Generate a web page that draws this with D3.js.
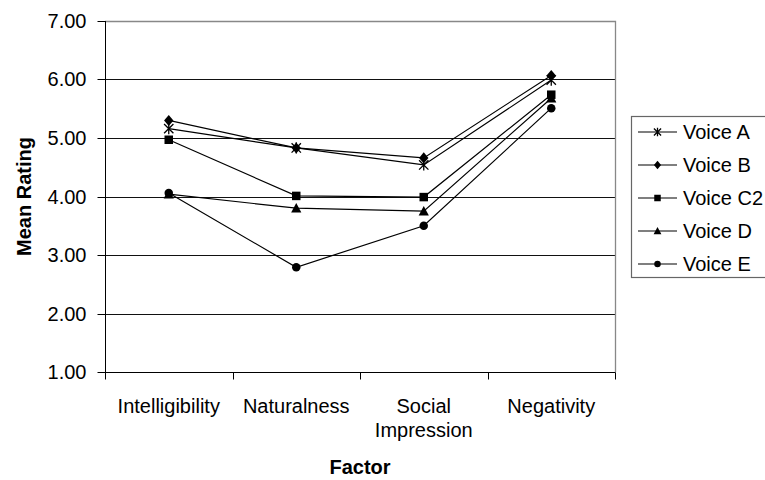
<!DOCTYPE html>
<html><head><meta charset="utf-8">
<script src="https://cdn.jsdelivr.net/npm/d3@7"></script>
<style>body{margin:0;background:#fff;overflow:hidden}svg{display:block;font-family:"Liberation Sans",Arial,sans-serif}</style>
</head><body><svg id="c" width="765" height="480"></svg>
<script>
const categories = ["Intelligibility", "Naturalness", "Social Impression", "Negativity"];
const voiceA = [5.16, 4.83, 4.54, 5.99];
const voiceB = [5.30, 4.83, 4.66, 6.07];
const voiceC2 = [4.97, 4.01, 3.99, 5.74];
const voiceD = [4.04, 3.80, 3.75, 5.68];
const voiceE = [4.06, 2.79, 3.50, 5.51];
const seriesNames = ["Voice A", "Voice B", "Voice C2", "Voice D", "Voice E"];
const seriesValues = [voiceA, voiceB, voiceC2, voiceD, voiceE];
const markers = ["asterisk", "diamond", "square", "triangle", "circle"];
const yTicks = [1, 2, 3, 4, 5, 6, 7];

const FS = 20;
const svg = d3.select("#c");
const m = {l: 105, t: 21, r: 615, b: 372};
const x = d3.scaleBand().domain(categories).range([m.l, m.r]);
const y = d3.scaleLinear().domain([1, 7]).range([m.b, m.t]);
const py = v => Math.round(y(v)) + 0.5;

// gridlines
svg.append("g").selectAll("line").data(yTicks.slice(1, -1)).join("line")
  .attr("x1", m.l).attr("x2", m.r).attr("y1", d => py(d)).attr("y2", d => py(d))
  .attr("stroke", "#111").attr("stroke-width", 1);
// plot border (top, right)
svg.append("path").attr("d", `M${m.l},${py(7)}H${m.r + 0.5}V${m.b}`)
  .attr("fill", "none").attr("stroke", "#888").attr("stroke-width", 1.3);

// y axis
const yAxis = d3.axisLeft(y).tickValues(yTicks).tickFormat(d3.format(".2f")).tickSize(8).tickPadding(11);
const ga = svg.append("g").attr("transform", `translate(${m.l + 0.5},0)`).call(yAxis);
ga.select(".domain").remove();
ga.append("line").attr("x1", 0).attr("x2", 0).attr("y1", m.t).attr("y2", m.b + 1).attr("stroke", "#000");
ga.selectAll(".tick").attr("transform", d => `translate(0,${py(d)})`);
ga.selectAll(".tick line").attr("stroke", "#000");
ga.selectAll(".tick text").attr("font-size", FS).attr("fill", "#000").attr("font-family", "Liberation Sans, Arial, sans-serif");

// x axis
const gx = svg.append("g").attr("transform", `translate(0,${m.b + 0.5})`);
gx.append("line").attr("x1", m.l).attr("x2", m.r + 0.5).attr("stroke", "#000");
const bounds = categories.map(c => x(c)).concat([m.r]);
gx.selectAll("line.tk").data(bounds).join("line").attr("class", "tk")
  .attr("x1", d => Math.round(d) + 0.5).attr("x2", d => Math.round(d) + 0.5).attr("y1", 0).attr("y2", 7).attr("stroke", "#000");
const catText = gx.selectAll("text").data(categories).join("text")
  .attr("x", d => x(d) + x.bandwidth() / 2).attr("y", 40)
  .attr("text-anchor", "middle").attr("font-size", FS).attr("fill", "#000");
catText.each(function(d) {
  const words = d.split(" ");
  const t = d3.select(this);
  words.forEach((w, i) => t.append("tspan").attr("x", x(d) + x.bandwidth() / 2).attr("dy", i ? 24 : 0).text(w));
});

// axis titles
svg.append("text").attr("x", m.l + (m.r - m.l) / 2).attr("y", 474).attr("text-anchor", "middle")
  .attr("font-size", FS).attr("font-weight", "bold").text("Factor");
svg.append("text").attr("transform", `translate(31,${(m.t + m.b) / 2}) rotate(-90)`).attr("text-anchor", "middle")
  .attr("font-size", FS).attr("font-weight", "bold").text("Mean Rating");

function drawMarker(g, type, cx, cy, s) {
  if (type === "asterisk") {
    const r = s * 0.55;
    g.append("path").attr("d", `M${cx - r},${cy - r}L${cx + r},${cy + r}M${cx - r},${cy + r}L${cx + r},${cy - r}M${cx},${cy - r * 1.2}V${cy + r * 1.2}`)
      .attr("stroke", "#000").attr("stroke-width", 1.3).attr("fill", "none");
  } else if (type === "diamond") {
    g.append("path").attr("d", `M${cx},${cy - s * 0.65}L${cx + s * 0.55},${cy}L${cx},${cy + s * 0.65}L${cx - s * 0.55},${cy}Z`).attr("fill", "#000");
  } else if (type === "square") {
    g.append("rect").attr("x", cx - s / 2).attr("y", cy - s / 2).attr("width", s).attr("height", s).attr("fill", "#000");
  } else if (type === "triangle") {
    g.append("path").attr("d", `M${cx},${cy - s * 0.6}L${cx + s * 0.6},${cy + s * 0.5}L${cx - s * 0.6},${cy + s * 0.5}Z`).attr("fill", "#000");
  } else {
    g.append("circle").attr("cx", cx).attr("cy", cy).attr("r", s / 2).attr("fill", "#000");
  }
}

const line = d3.line().x((d, i) => x(categories[i]) + x.bandwidth() / 2).y(d => y(d));
seriesValues.forEach((vals, si) => {
  const g = svg.append("g");
  g.append("path").attr("d", line(vals)).attr("fill", "none").attr("stroke", "#000").attr("stroke-width", 1.2);
  vals.forEach((v, i) => drawMarker(g, markers[si], x(categories[i]) + x.bandwidth() / 2, y(v), 8.5));
});

// legend
const lg = svg.append("g");
const lx = 631, ly = 116, lh = 161;
lg.append("rect").attr("x", lx + 0.5).attr("y", ly + 0.5).attr("width", 170).attr("height", lh)
  .attr("fill", "#fff").attr("stroke", "#666").attr("stroke-width", 1.2);
seriesNames.forEach((n, i) => {
  const yy = ly + 16 + i * 33;
  lg.append("line").attr("x1", lx + 7).attr("x2", lx + 46).attr("y1", yy).attr("y2", yy).attr("stroke", "#000").attr("stroke-width", 1.2);
  drawMarker(lg, markers[i], lx + 26.5, yy, 6.5);
  lg.append("text").attr("x", lx + 52).attr("y", yy + 7).attr("font-size", FS).attr("fill", "#000").text(n);
});
</script></body></html>
